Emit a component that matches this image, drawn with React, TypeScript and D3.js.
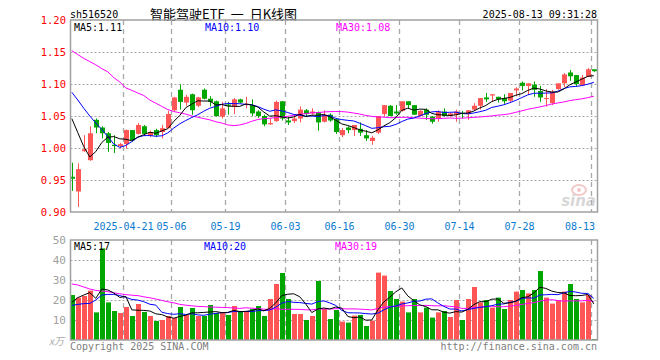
import React from 'react';
import * as d3 from 'd3';

const openP = [0.955,0.932,0.995,0.981,1.044,1.032,1.023,1.005,1.003,1.006,1.028,1.022,1.034,1.019,1.028,1.025,1.031,1.059,1.091,1.071,1.084,1.066,1.091,1.077,1.073,1.049,1.068,1.064,1.076,1.067,1.067,1.057,1.050,1.037,1.042,1.073,1.043,1.042,1.046,1.059,1.054,1.056,1.041,1.052,1.045,1.020,1.032,1.028,1.030,1.020,1.011,1.024,1.053,1.066,1.057,1.058,1.073,1.067,1.050,1.060,1.049,1.046,1.057,1.050,1.052,1.055,1.053,1.060,1.066,1.079,1.082,1.080,1.078,1.074,1.090,1.102,1.097,1.099,1.089,1.077,1.070,1.092,1.101,1.118,1.114,1.098,1.111,1.123];
const highP = [0.977,0.976,1.020,1.034,1.046,1.034,1.025,1.020,1.008,1.029,1.028,1.039,1.036,1.027,1.030,1.036,1.058,1.080,1.0995,1.083,1.085,1.080,1.093,1.081,1.074,1.072,1.072,1.078,1.077,1.080,1.076,1.059,1.052,1.046,1.074,1.073,1.049,1.052,1.065,1.061,1.062,1.057,1.059,1.054,1.046,1.031,1.034,1.036,1.040,1.028,1.019,1.050,1.067,1.067,1.067,1.073,1.073,1.067,1.059,1.062,1.050,1.059,1.062,1.055,1.060,1.058,1.059,1.070,1.078,1.086,1.084,1.080,1.084,1.086,1.095,1.104,1.101,1.104,1.097,1.092,1.091,1.101,1.117,1.122,1.114,1.114,1.125,1.123];
const lowP = [0.933,0.908,0.994,0.980,1.023,1.015,0.994,0.992,0.999,0.999,1.010,1.021,1.019,1.017,1.017,1.015,1.031,1.057,1.060,1.066,1.052,1.064,1.076,1.065,1.049,1.046,1.052,1.053,1.070,1.062,1.050,1.047,1.034,1.036,1.041,1.043,1.036,1.039,1.040,1.050,1.052,1.027,1.040,1.041,1.022,1.017,1.023,1.019,1.019,1.011,1.005,1.022,1.049,1.050,1.052,1.057,1.062,1.052,1.049,1.044,1.038,1.041,1.049,1.049,1.041,1.046,1.044,1.058,1.060,1.072,1.072,1.071,1.069,1.072,1.081,1.090,1.083,1.080,1.072,1.065,1.067,1.091,1.095,1.105,1.097,1.097,1.111,1.119];
const closeP = [0.952,0.967,0.998,1.023,1.032,1.023,1.008,1.003,1.006,1.028,1.012,1.036,1.022,1.025,1.020,1.031,1.053,1.079,1.072,1.080,1.059,1.079,1.077,1.072,1.050,1.062,1.066,1.076,1.071,1.069,1.054,1.050,1.037,1.039,1.072,1.046,1.040,1.046,1.060,1.053,1.057,1.040,1.052,1.043,1.025,1.028,1.028,1.036,1.024,1.015,1.016,1.050,1.067,1.050,1.054,1.073,1.067,1.052,1.058,1.052,1.041,1.057,1.050,1.054,1.057,1.053,1.059,1.066,1.078,1.076,1.084,1.076,1.073,1.086,1.093,1.097,1.101,1.091,1.079,1.078,1.088,1.101,1.115,1.112,1.100,1.110,1.123,1.120];
const volume = [22.5,21.2,22,24.7,13.8,45.8,18.8,14.5,13.5,16.5,12,18,14,12,9.5,10,12,11,16.5,12.5,16,12,12,17.5,13.5,13.5,12.5,17,14.5,14,15.5,17,12,20.5,28,33.5,20.5,13,13,10,12,29.5,15.5,10.5,15,9.2,8.7,12.2,12.5,7,9.7,33.7,32.2,24.5,20.5,19.2,13.8,20.5,13.8,16.2,11.2,13.8,14.5,11.5,20,10,20.5,26.5,18.8,20,16.2,21.2,15.5,20,24.2,25,23.3,25,34.5,21.2,18.2,19.8,24.2,28,20.5,18.8,22.5,0.5];

// moving-average values before enough bars exist
const priceMa5Lead = [1.046,1.024,1.002,0.986];
const priceMa10Lead = [1.087,1.075,1.062,1.050,1.039,1.029,1.018,1.006,1.001];
const priceMa30Lead = [1.152,1.146,1.140,1.135,1.130,1.124,1.119,1.110,1.103,1.094,1.090,1.086,1.082,1.075,1.070,1.065,1.060,1.057,1.055,1.053,1.050,1.048,1.046,1.044,1.041,1.039,1.036,1.035,1.036];
const volMa5Lead = [18.8,21.2,22.5,23.7];
const volMa10Lead = [17.3,17.8,18.2,18.3,20,22.5,22.8,22.8,22.2];
const volMa30Lead = [28,27.5,26.5,25.5,24.8,24.5,24.2,23.6,23.1,22.7,22.4,22.2,21.6,21.1,20.5,19.8,19.1,18.6,17.8,17.4,17.1,16.8,16.7,16.5,16.4,16.3,16.2,16.0,15.8];

const tickIndex = [9,17,26,36,45,55,65,75,87];
const tickLabels = ['2025-04-21','05-06','05-19','06-03','06-16','06-30','07-14','07-28','08-13'];
const priceTicks = [0.90,0.95,1.00,1.05,1.10,1.15,1.20];
const volTicks = [10,20,30,40,50];

const symbol = 'sh516520';
const title = '智能驾驶ETF 一 日K线图';
const stamp = '2025-08-13 09:31:28';
const priceMaText = ['MA5:1.11','MA10:1.10','MA30:1.08'];
const volMaText = ['MA5:17','MA10:20','MA30:19'];

const RED = '#ff5555';
const GREEN = '#00a600';
const GRID = '#a8a8a8';
const FRAME = '#a0a0a0';
const MONO = '"DejaVu Sans Mono", "Liberation Mono", monospace';

function movingAvg(arr: number[], n: number, lead: number[]) {
  return arr.map((_, i) => (i < n - 1 ? lead[i] : d3.mean(arr.slice(i - n + 1, i + 1)) as number));
}

export default function App() {
  const L = 70.5, R = 597.5;
  const pTop = 20, pBot = 212, vTop = 240, vBot = 340;
  const idx = d3.range(closeP.length);
  const x = d3.scaleBand<number>().domain(idx).range([68.8, 596.8]).paddingInner(1 / 6).paddingOuter(1 / 12);
  const bw = x.bandwidth();
  const cx = (i: number) => (x(i) as number) + bw / 2;
  const y = d3.scaleLinear().domain([0.9, 1.2]).range([pBot, pTop]);
  const yv = d3.scaleLinear().domain([0, 50]).range([vBot, vTop]);

  const pm5 = movingAvg(closeP, 5, priceMa5Lead);
  const pm10 = movingAvg(closeP, 10, priceMa10Lead);
  const pm30 = movingAvg(closeP, 30, priceMa30Lead);
  const vm5 = movingAvg(volume, 5, volMa5Lead);
  const vm10 = movingAvg(volume, 10, volMa10Lead);
  const vm30 = movingAvg(volume, 30, volMa30Lead);

  const pLine = d3.line<number>().x((_, i) => cx(i)).y((d) => y(d));
  const vLine = d3.line<number>().x((_, i) => cx(i)).y((d) => yv(d));
  const gx = (i: number) => Math.round((x(i) as number)) + 0.5;
  const titleParts = title.split(' ');

  return (
    <svg width={660} height={360} style={{ position: 'absolute', left: 0, top: 0, background: '#fff' }}>
      {/* header */}
      <text x={70} y={18} fontFamily={MONO} fontSize={10} fill="#000">{symbol}</text>
      <text x={150} y={19} fontFamily='"Noto Sans CJK SC", sans-serif' fontSize={13} fill="#000">
        {titleParts.map((p, k) => (
          <tspan key={k} dx={k ? 6 : 0}>{p}</tspan>
        ))}
      </text>
      <text x={597} y={18} fontFamily={MONO} fontSize={10} fill="#000" textAnchor="end">{stamp}</text>

      {/* price grid */}
      {priceTicks.slice(1, -1).map((t) => (
        <line key={'ph' + t} x1={L} x2={R} y1={Math.round(y(t)) + 0.5} y2={Math.round(y(t)) + 0.5} stroke={GRID} strokeDasharray="2,2" />
      ))}
      {tickIndex.map((ti) => (
        <line key={'pv' + ti} x1={gx(ti)} x2={gx(ti)} y1={pTop} y2={pBot} stroke={GRID} strokeWidth={1.3} strokeDasharray="5,4" />
      ))}
      {/* volume grid */}
      {volTicks.slice(0, -1).map((t) => (
        <line key={'vh' + t} x1={L} x2={R} y1={Math.round(yv(t)) + 0.5} y2={Math.round(yv(t)) + 0.5} stroke={GRID} strokeDasharray="2,2" />
      ))}
      {tickIndex.map((ti) => (
        <line key={'vv' + ti} x1={gx(ti)} x2={gx(ti)} y1={vTop} y2={vBot} stroke={GRID} strokeWidth={1.3} strokeDasharray="5,4" />
      ))}

      {/* sina watermark */}
      <g opacity={0.55}>
        <ellipse cx={579} cy={190} rx={7} ry={5} fill="none" stroke="#e89a9a" strokeWidth={2} />
        <circle cx={579} cy={190} r={2} fill="#e89a9a" />
        <text x={596} y={206} textAnchor="end" fontFamily="DejaVu Sans, sans-serif" fontStyle="italic" fontWeight="bold" fontSize={15} fill="#b8b8b8">sina</text>
      </g>

      {/* candles */}
      {idx.map((i) => {
        const up = closeP[i] >= openP[i];
        const col = up ? RED : GREEN;
        const top = y(Math.max(openP[i], closeP[i]));
        const bot = y(Math.min(openP[i], closeP[i]));
        const xc = Math.round(cx(i)) + 0.5;
        return (
          <g key={'c' + i}>
            <line x1={xc} x2={xc} y1={y(highP[i])} y2={y(lowP[i])} stroke={col} strokeWidth={1} />
            <rect x={xc - 2.5} y={top} width={5} height={Math.max(1, bot - top)} fill={col} />
          </g>
        );
      })}
      <path d={pLine(pm30) as string} fill="none" stroke="#ff00ff" strokeWidth={1} />
      <path d={pLine(pm10) as string} fill="none" stroke="#0000ff" strokeWidth={1} />
      <path d={pLine(pm5) as string} fill="none" stroke="#000000" strokeWidth={1} />

      {/* volume bars */}
      {idx.map((i) => {
        const up = closeP[i] >= openP[i];
        const xc = Math.round(cx(i)) + 0.5;
        return <rect key={'v' + i} x={xc - 2.5} y={yv(volume[i])} width={5} height={vBot - yv(volume[i])} fill={up ? RED : GREEN} />;
      })}
      <path d={vLine(vm30) as string} fill="none" stroke="#ff00ff" strokeWidth={1} />
      <path d={vLine(vm10) as string} fill="none" stroke="#0000ff" strokeWidth={1} />
      <path d={vLine(vm5) as string} fill="none" stroke="#000000" strokeWidth={1} />

      {/* frames */}
      <rect x={L} y={pTop} width={R - L} height={pBot - pTop} fill="none" stroke={FRAME} strokeWidth={1.5} />
      <rect x={L} y={vTop} width={R - L} height={vBot - vTop} fill="none" stroke={FRAME} strokeWidth={1.5} />

      {/* MA legends */}
      <text x={74} y={31} fontFamily={MONO} fontSize={10} fill="#000">{priceMaText[0]}</text>
      <text x={205} y={31} fontFamily={MONO} fontSize={10} fill="#0000ff">{priceMaText[1]}</text>
      <text x={336} y={31} fontFamily={MONO} fontSize={10} fill="#ff00ff">{priceMaText[2]}</text>
      <text x={74} y={250} fontFamily={MONO} fontSize={10} fill="#000">{volMaText[0]}</text>
      <text x={204} y={250} fontFamily={MONO} fontSize={10} fill="#0000ff">{volMaText[1]}</text>
      <text x={335} y={250} fontFamily={MONO} fontSize={10} fill="#ff00ff">{volMaText[2]}</text>

      {/* price axis labels */}
      {priceTicks.map((t) => (
        <text key={'pl' + t} x={66} y={y(t)} dy="0.35em" textAnchor="end" fontFamily={MONO} fontSize={10.5} fill="#ff0000">{t.toFixed(2)}</text>
      ))}
      {/* date labels */}
      {tickIndex.map((ti, k) => {
        const label = tickLabels[k];
        const w = label.length * 6;
        let xc = gx(ti);
        if (xc + w / 2 > 595) xc = 595 - w / 2;
        return <text key={'xl' + ti} x={xc} y={230} textAnchor="middle" fontFamily={MONO} fontSize={10} fill="#0a7ad0">{label}</text>;
      })}
      {/* volume axis labels */}
      {volTicks.map((t) => (
        <text key={'vl' + t} x={66} y={yv(t)} dy="0.35em" textAnchor="end" fontFamily={MONO} fontSize={11} fill="#a0a0a0">{t}</text>
      ))}
      <text x={64} y={345} textAnchor="end" fontFamily='"Noto Sans CJK SC", sans-serif' fontSize={10} fill="#a8a8a8" fontStyle="italic">x万</text>
      <text x={70} y={350} fontFamily={MONO} fontSize={10} fill="#808080">Copyright 2025 SINA.COM</text>
      <text x={597} y={350} textAnchor="end" fontFamily={MONO} fontSize={10} fill="#808080">http://finance.sina.com.cn</text>
    </svg>
  );
}
